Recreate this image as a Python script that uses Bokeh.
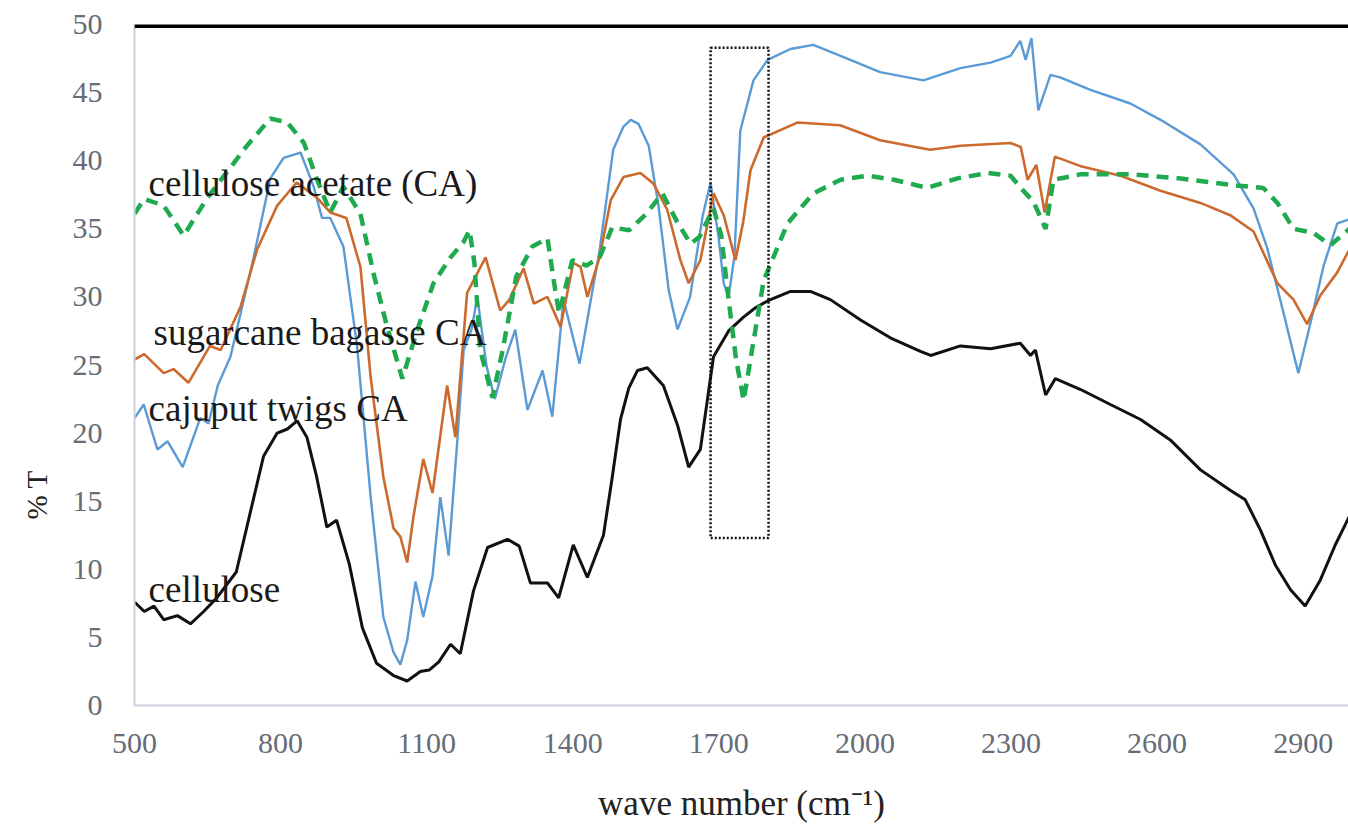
from bokeh.plotting import figure
from bokeh.models import Range1d, FixedTicker, Span, Title, ColumnDataSource
from bokeh.core.properties import value
from bokeh.embed import file_html
from bokeh.resources import INLINE

# ---------------- data ----------------
wn_cel = [500,520,540,560,588,615,642,669,709,736,765,793,814,834,854,874,895,915,941,968,
          997,1032,1060,1087,1105,1125,1149,1169,1196,1225,1266,1290,1313,1348,1371,1401,1430,1463,1480,1498,
          1515,1533,1553,1586,1615,1638,1662,1689,1720,1750,1775,1800,1847,1888,1929,1991,2052,2114,2135,2196,
          2258,2319,2340,2350,2371,2391,2443,2504,2566,2627,2689,2750,2781,2812,2843,2874,2904,2935,2966,2995]
t_cel = [7.6,6.9,7.3,6.3,6.6,6.0,6.9,7.9,9.8,13.9,18.3,20.0,20.3,20.9,19.7,16.8,13.1,13.6,10.4,5.7,
         3.1,2.2,1.8,2.5,2.6,3.2,4.5,3.8,8.4,11.6,12.2,11.7,9.0,9.0,7.9,11.8,9.4,12.5,16.5,21.0,
         23.3,24.6,24.8,23.5,20.6,17.5,18.8,25.6,27.5,28.5,29.2,29.7,30.4,30.4,29.8,28.3,27.0,26.0,25.7,26.4,
         26.2,26.6,25.7,26.1,22.8,24.0,23.2,22.1,21.0,19.5,17.3,15.8,15.1,12.9,10.3,8.5,7.3,9.2,11.8,13.9]

wn_caj = [500,519,547,568,599,635,652,671,697,718,744,779,806,841,868,885,902,929,957,985,
          1011,1032,1046,1060,1077,1093,1112,1128,1145,1163,1176,1192,1204,1223,1240,1262,1282,1307,1338,1358,
          1381,1414,1455,1483,1504,1519,1535,1556,1576,1597,1615,1641,1667,1683,1699,1710,1720,1732,1744,1771,
          1800,1847,1894,1970,2031,2120,2196,2258,2299,2319,2330,2342,2356,2381,2402,2463,2545,2607,2689,2757,
          2798,2826,2859,2890,2915,2942,2970,2995]
t_caj = [21.1,22.1,18.8,19.4,17.5,21.1,20.7,23.5,25.6,28.8,32.8,38.7,40.2,40.6,38.1,35.8,35.8,33.7,26.4,15.3,
         6.5,3.9,3.0,4.8,9.1,6.5,9.5,15.3,11.0,19.5,26.1,27.6,30.0,24.9,22.5,25.5,27.6,21.7,24.6,21.2,
         29.8,25.1,33.4,40.8,42.5,43.0,42.7,41.1,36.7,30.5,27.6,30.0,36.0,38.4,34.5,31.0,30.0,33.0,42.2,45.9,
         47.4,48.2,48.5,47.4,46.5,45.9,46.8,47.2,47.7,48.8,47.4,49.0,43.7,46.3,46.1,45.2,44.2,43.0,41.2,39.0,
         36.5,33.6,28.9,24.4,28.1,32.3,35.4,35.7]

wn_sug = [500,520,560,580,611,655,677,718,752,793,833,874,902,935,964,985,1011,1032,1046,1060,
          1073,1093,1112,1142,1159,1183,1221,1251,1270,1299,1320,1348,1375,1401,1416,1430,1455,1478,1504,1539,
          1566,1594,1621,1638,1662,1689,1710,1734,1750,1765,1792,1861,1949,2031,2134,2196,2299,2320,2334,2352,
          2369,2390,2443,2525,2607,2689,2750,2798,2847,2880,2908,2935,2970,2995]
t_sug = [25.4,25.8,24.4,24.7,23.7,26.4,26.1,29.3,33.5,36.7,38.4,37.3,36.2,35.8,32.2,24.1,16.8,13.0,12.4,10.5,
         13.9,18.1,15.6,23.5,19.7,30.3,32.9,29.0,29.8,32.1,29.5,30.0,27.8,32.5,32.2,30.0,32.9,37.1,38.8,39.1,
         38.3,36.4,32.7,31.0,32.7,37.6,36.0,32.7,35.5,39.3,41.7,42.8,42.6,41.5,40.8,41.1,41.3,41.0,38.6,39.7,
         36.2,40.3,39.6,38.9,37.8,36.9,36.0,34.8,31.0,29.8,28.0,30.1,31.8,33.5]

wn_ca = [500,520,560,601,650,697,731,779,814,848,874,902,929,964,991,1018,1050,1080,1114,1149,
         1175,1188,1198,1210,1235,1256,1284,1317,1348,1364,1372,1399,1428,1455,1481,1516,1551,1584,1613,1642,
         1660,1689,1705,1720,1735,1751,1770,1792,1841,1894,1950,2005,2060,2128,2190,2252,2299,2325,2346,2371,
         2387,2443,2545,2648,2757,2818,2847,2880,2921,2956,2995]
t_ca = [36.1,37.2,36.7,34.5,37.3,39.5,41.1,43.1,42.8,41.3,38.7,36.2,38.1,36.1,31.7,27.9,24.0,27.5,31.0,32.9,
        34.0,34.9,32.5,26.1,22.6,26.1,31.5,33.7,34.3,30.5,28.8,32.7,32.3,32.9,35.1,34.9,36.1,37.6,35.6,33.9,
        34.4,36.5,34.5,29.8,25.5,22.4,26.5,31.2,35.4,37.6,38.6,38.9,38.6,38.0,38.7,39.1,38.9,37.8,37.0,35.0,
        38.6,39.0,39.0,38.7,38.2,38.0,36.9,35.0,34.7,33.8,35.0]

x_ticks = [500, 800, 1100, 1400, 1700, 2000, 2300, 2600, 2900]
y_ticks = [0, 5, 10, 15, 20, 25, 30, 35, 40, 45, 50]

series_labels = ["cellulose acetate (CA)", "sugarcane bagasse CA", "cajuput twigs CA", "cellulose"]
label_x = [529, 539, 529, 529]
label_y = [38.3, 27.4, 21.8, 8.5]

box_left, box_right, box_bottom, box_top = 1683, 1802, 12.3, 48.3

# ---------------- figure ----------------
SERIF = "Liberation Serif"
p = figure(width=1348, height=825, output_backend="svg", toolbar_location=None,
           x_range=Range1d(500, 2993), y_range=Range1d(0, 50),
           min_border_left=134, min_border_right=0, min_border_top=24, min_border_bottom=119)
p.grid.visible = False
p.outline_line_color = None
p.background_fill_color = "white"
p.border_fill_color = "white"

for ax in (p.xaxis[0], p.yaxis[0]):
    ax.axis_line_color = "#c9cfdc"
    ax.axis_line_width = 2
    ax.major_tick_line_color = None
    ax.minor_tick_line_color = None
    ax.major_label_text_font = SERIF
    ax.major_label_text_font_size = "30px"
    ax.major_label_text_color = "#666c78"

p.xaxis.ticker = FixedTicker(ticks=x_ticks)
p.yaxis.ticker = FixedTicker(ticks=y_ticks)
p.xaxis.major_label_standoff = 22
p.yaxis.major_label_standoff = 26
p.xaxis.axis_label = "wave number (cm\u207b\u00b9)"
p.xaxis.axis_label_text_font = SERIF
p.xaxis.axis_label_text_font_size = "35px"
p.xaxis.axis_label_text_font_style = "normal"
p.xaxis.axis_label_text_color = "#222222"
p.xaxis.axis_label_standoff = 28

# y axis title (as a side title, shifted below the centre like the reference)
p.add_layout(Title(text="% T", align="left", vertical_align="top", offset=186, text_font=SERIF,
                   text_font_size="29px", text_font_style="normal", text_color="#222222",
                   standoff=30), "left")

# top border line (half of it falls outside the frame)
p.add_layout(Span(location=50, dimension="width", line_color="black", line_width=7))

# curves
p.line(wn_cel, t_cel, line_color="#111111", line_width=3)
p.line(wn_caj, t_caj, line_color="#5b9bd5", line_width=2.4)
p.line(wn_sug, t_sug, line_color="#cc6a2e", line_width=2.6)
p.line(wn_ca, t_ca, line_color="#1faa4f", line_width=4.5, line_dash="12 8")

# dotted highlight box
p.quad(left=[box_left], right=[box_right], bottom=[box_bottom], top=[box_top],
       fill_color=None, line_color="#111111", line_width=2.5, line_dash="2 2")

# series labels
src = ColumnDataSource(dict(x=label_x, y=label_y, t=series_labels))
p.text(x="x", y="y", text="t", source=src, text_font=value(SERIF), text_font_size="37px",
       text_color="#1a1a1a", text_baseline="alphabetic", text_align="left")

open("out.html", "w").write(file_html(p, INLINE))
